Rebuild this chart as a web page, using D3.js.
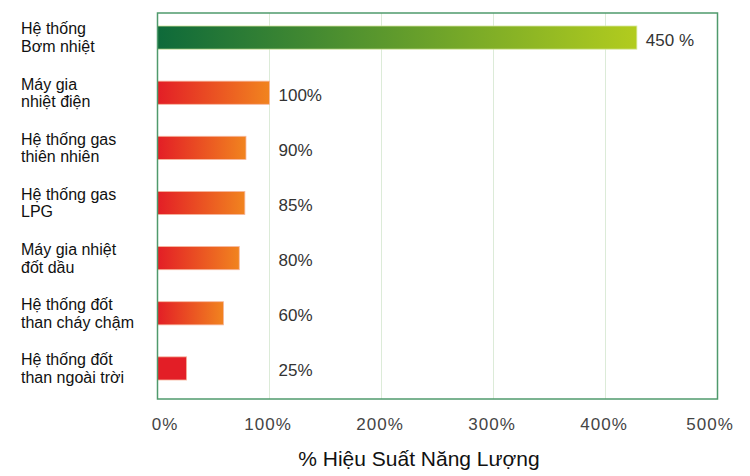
<!DOCTYPE html>
<html>
<head>
<meta charset="utf-8">
<script src="https://cdn.jsdelivr.net/npm/d3@7"></script>
<style>
  body { margin: 0; background: #fff; }
  svg { display: block; font-family: "Liberation Sans", Arial, sans-serif; }
</style>
</head>
<body>
<svg id="chart" width="750" height="476"></svg>
<script>
// categories (two lines each), bar lengths, printed labels
var categories = [
    ['Hệ thống', 'Bơm nhiệt'],
    ['Máy gia', 'nhiệt điện'],
    ['Hệ thống gas', 'thiên nhiên'],
    ['Hệ thống gas', 'LPG'],
    ['Máy gia nhiệt', 'đốt dầu'],
    ['Hệ thống đốt', 'than cháy chậm'],
    ['Hệ thống đốt', 'than ngoài trời']
]
var barValues = [428, 100, 79, 78, 73, 59, 26]
var valueLabels = ['450 %', '100%', '90%', '85%', '80%', '60%', '25%']
var xTicks = [0, 100, 200, 300, 400, 500]
var xTitle = '% Hiệu Suất Năng Lượng'

var svg = d3.select('#chart')
var plotL = 157.5, plotR = 717.5, plotT = 13, plotB = 399

var x = d3.scaleLinear().domain([0, 500]).range([plotL, plotR])
var y = d3.scaleBand().domain(d3.range(categories.length))
    .range([10, 396]).paddingInner(0.58).paddingOuter(0.29)

// gradients
var defs = svg.append('defs')
var addGrad = function(id, c1, c2){
    var g = defs.append('linearGradient').attr('id', id)
        .attr('x1', '0%').attr('x2', '100%').attr('y1', '0%').attr('y2', '0%')
    g.append('stop').attr('offset', '0%').attr('stop-color', c1)
    g.append('stop').attr('offset', '100%').attr('stop-color', c2)
}
addGrad('gGreen', '#0e6a3a', '#b2cc1e')
addGrad('gOrange', '#e31e26', '#f1841f')

// grid lines
svg.append('g').selectAll('line').data(xTicks.slice(1, -1)).enter()
    .append('line')
    .attr('x1', d => x(d)).attr('x2', d => x(d))
    .attr('y1', plotT).attr('y2', plotB)
    .attr('stroke', '#dcebd8').attr('stroke-width', 1)

// bars
svg.append('g').selectAll('rect').data(barValues).enter()
    .append('rect')
    .attr('x', x(0))
    .attr('y', (d, i) => y(i))
    .attr('width', d => x(d) - x(0))
    .attr('height', y.bandwidth())
    .attr('fill', (d, i) => i == 0 ? 'url(#gGreen)' : (d < 40 ? '#e31e26' : 'url(#gOrange)'))
    .attr('stroke', (d, i) => i == 0 ? '#d8e8a0' : '#f7b8a0')
    .attr('stroke-width', 0.8)

// frame
svg.append('rect')
    .attr('x', plotL).attr('y', plotT)
    .attr('width', plotR - plotL).attr('height', plotB - plotT)
    .attr('fill', 'none').attr('stroke', '#4f9a6c').attr('stroke-width', 1.5)

// value labels
svg.append('g').selectAll('text').data(barValues).enter()
    .append('text')
    .attr('x', d => Math.max(x(d), x(100)) + 9)
    .attr('y', (d, i) => y(i) + y.bandwidth() / 2 + 2)
    .attr('dy', '0.35em')
    .attr('font-size', '17px')
    .attr('fill', '#333')
    .text((d, i) => valueLabels[i])

// category labels
var cat = svg.append('g').selectAll('text').data(categories).enter()
    .append('text')
    .attr('x', 21)
    .attr('y', (d, i) => y(i) + y.bandwidth() / 2)
    .attr('font-size', '16px')
    .attr('fill', '#111')
cat.selectAll('tspan').data(d => d).enter()
    .append('tspan')
    .attr('x', 21)
    .attr('dy', (d, j) => j == 0 ? '-0.2em' : '1.1em')
    .text(d => d)

// x axis
var axis = svg.append('g')
    .attr('transform', 'translate(0,' + (plotB + 16) + ')')
    .call(d3.axisBottom(x).tickValues(xTicks).tickSize(0).tickFormat(d => d + '%'))
axis.select('.domain').remove()
axis.selectAll('text')
    .attr('font-size', '17px')
    .attr('font-family', '"Liberation Sans", Arial, sans-serif')
    .attr('letter-spacing', '1px')
    .attr('fill', '#444')
    .attr('dx', (d, i) => i == 0 ? 7 : (i == xTicks.length - 1 ? -8 : -2))

svg.append('text')
    .attr('x', 419).attr('y', 466)
    .attr('text-anchor', 'middle')
    .attr('font-size', '21px')
    .attr('fill', '#111')
    .text(xTitle)
</script>
</body>
</html>
